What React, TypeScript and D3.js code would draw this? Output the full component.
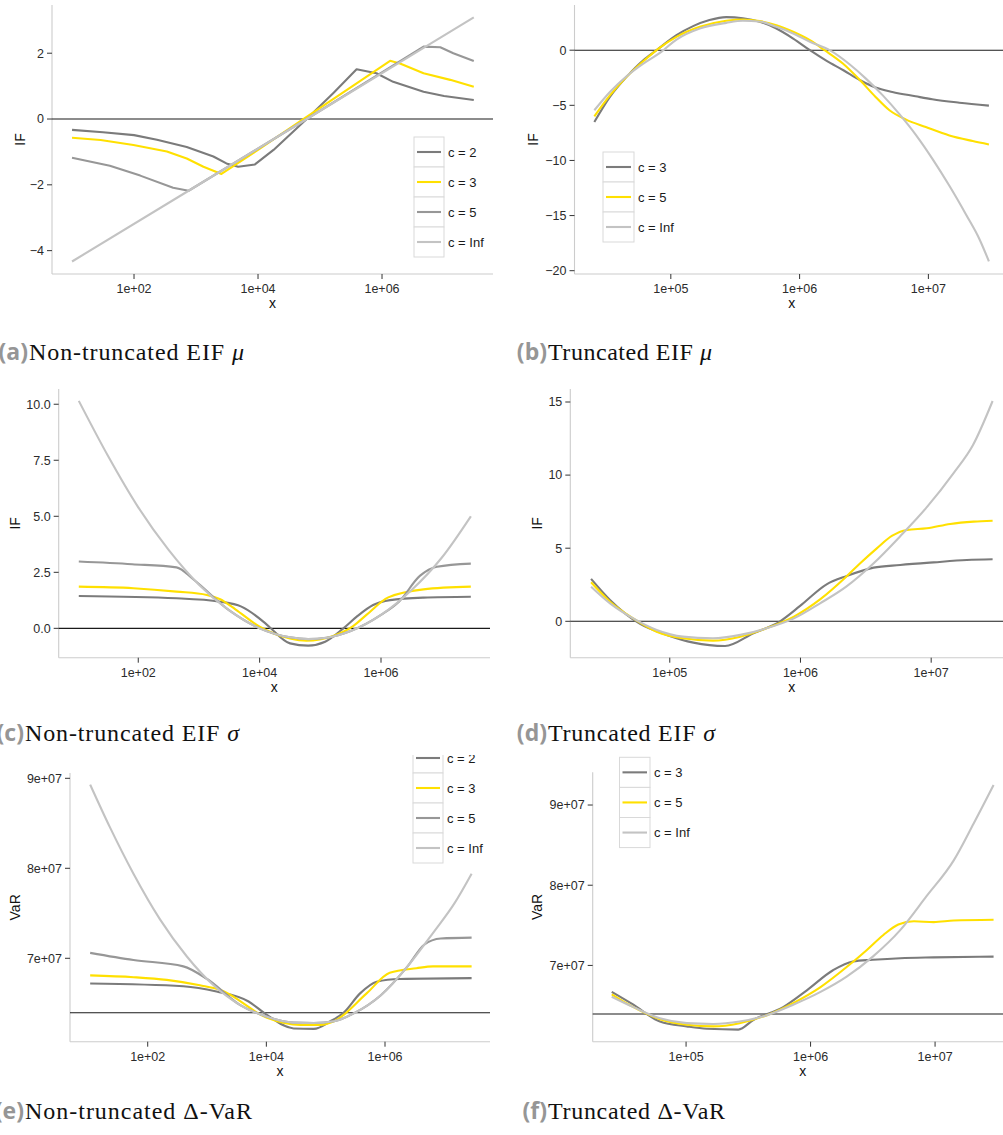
import React from 'react';
import * as d3 from 'd3';

// ---------- legend labels & palettes ----------
const NAMES_NT = ['c = 2', 'c = 3', 'c = 5', 'c = Inf'];
const NAMES_T = ['c = 3', 'c = 5', 'c = Inf'];
const COLORS_NT = ['#7b7b7b', '#ffe000', '#979797', '#c3c3c3'];
const COLORS_T = ['#7b7b7b', '#ffe000', '#c3c3c3'];

// ---------- data: [log10(x), value] ----------
// (a) Non-truncated EIF mu
const A_C2: [number, number][] = [[1.0,-0.33],[1.5,-0.4],[2.0,-0.49],[2.37,-0.63],[2.85,-0.85],[3.28,-1.14],[3.49,-1.35],[3.68,-1.45],[3.95,-1.38],[4.25,-0.94],[4.785,0],[5.22,0.8],[5.59,1.51],[5.91,1.39],[6.18,1.13],[6.67,0.83],[7.0,0.7],[7.48,0.58]];
const A_C3: [number, number][] = [[1.0,-0.57],[1.46,-0.64],[1.99,-0.79],[2.53,-0.99],[2.85,-1.2],[3.12,-1.45],[3.41,-1.67],[4.03,-0.9],[4.73,0],[5.5,0.97],[6.13,1.77],[6.29,1.69],[6.67,1.39],[7.1,1.19],[7.48,0.98]];
const A_C5: [number, number][] = [[1.0,-1.18],[1.61,-1.42],[2.1,-1.72],[2.63,-2.09],[2.88,-2.18],[4.785,0],[6.67,2.2],[6.94,2.18],[7.15,2.0],[7.48,1.76]];
const A_INF: [number, number][] = [[1.0,-4.33],[2.88,-2.18],[4.785,0],[6.67,2.16],[7.48,3.09]];

// (b) Truncated EIF mu
const B_C3: [number, number][] = [[4.406,-6.52],[4.527,-4.24],[4.656,-2.42],[4.786,-0.91],[4.889,0],[5.044,1.36],[5.173,2.18],[5.3,2.73],[5.43,3.0],[5.56,2.9],[5.69,2.58],[5.82,1.97],[5.95,1.06],[6.08,0],[6.21,-0.97],[6.34,-1.82],[6.47,-2.73],[6.59,-3.39],[6.72,-3.79],[6.9,-4.18],[7.03,-4.45],[7.24,-4.76],[7.47,-5.03]];
const B_C5: [number, number][] = [[4.406,-6.0],[4.527,-4.1],[4.656,-2.42],[4.786,-1.0],[4.915,0.24],[5.044,1.21],[5.225,2.12],[5.43,2.67],[5.56,2.79],[5.69,2.64],[5.82,2.27],[5.95,1.67],[6.08,0.91],[6.194,0],[6.336,-1.21],[6.47,-2.73],[6.59,-4.24],[6.698,-5.45],[6.827,-6.3],[6.98,-6.97],[7.163,-7.73],[7.344,-8.24],[7.47,-8.55]];
const B_INF: [number, number][] = [[4.406,-5.45],[4.527,-3.79],[4.656,-2.36],[4.786,-1.21],[4.915,-0.24],[5.044,0.97],[5.225,1.97],[5.43,2.48],[5.56,2.67],[5.69,2.6],[5.82,2.12],[5.95,1.52],[6.08,0.76],[6.233,0],[6.39,-1.3],[6.517,-2.6],[6.646,-4.1],[6.775,-5.8],[6.904,-7.7],[7.034,-9.9],[7.163,-12.3],[7.292,-14.9],[7.395,-17.1],[7.47,-19.15]];

// (c) Non-truncated EIF sigma
const C_C2: [number, number][] = [[1.02,1.44],[2.63,1.34],[3.35,1.19],[3.7,0.97],[4.06,0.3],[4.17,0.04],[4.5,-0.67],[4.8,-0.77],[5.08,-0.6],[5.38,0.0],[5.6,0.52],[5.87,1.04],[6.15,1.26],[6.7,1.37],[7.48,1.41]];
const C_C3: [number, number][] = [[1.02,1.86],[1.92,1.79],[2.63,1.64],[3.13,1.49],[3.35,1.3],[3.6,0.85],[4.0,0.07],[4.5,-0.45],[4.77,-0.55],[5.21,-0.34],[5.54,0.1],[5.76,0.6],[6.12,1.38],[6.7,1.74],[7.48,1.86]];
const C_C5: [number, number][] = [[1.02,2.98],[1.9,2.86],[2.63,2.72],[2.91,2.18],[3.5,0.8],[4.0,0.0],[4.5,-0.4],[4.8,-0.48],[5.1,-0.42],[5.5,-0.12],[6.0,0.6],[6.3,1.2],[6.64,2.34],[6.92,2.75],[7.48,2.89]];
const C_INF: [number, number][] = [[1.02,10.15],[1.5,7.7],[2.0,5.4],[2.5,3.5],[3.0,1.95],[3.5,0.8],[4.0,0.0],[4.5,-0.4],[4.8,-0.48],[5.1,-0.42],[5.5,-0.12],[6.0,0.6],[6.5,1.7],[7.0,3.15],[7.48,5.0]];

// (d) Truncated EIF sigma
const D_C3: [number, number][] = [[4.398,2.9],[4.543,1.46],[4.773,-0.18],[4.977,-0.93],[5.181,-1.46],[5.423,-1.69],[5.64,-0.82],[5.844,0],[5.997,1.05],[6.2,2.53],[6.355,3.1],[6.559,3.67],[6.763,3.85],[7.018,4.03],[7.273,4.19],[7.47,4.24]];
const D_C5: [number, number][] = [[4.398,2.67],[4.543,1.34],[4.72,0.2],[4.9,-0.71],[5.1,-1.16],[5.33,-1.32],[5.54,-1.05],[5.74,-0.48],[5.95,0.32],[6.15,1.5],[6.35,3.05],[6.457,3.97],[6.584,4.99],[6.699,5.84],[6.814,6.25],[6.967,6.36],[7.145,6.66],[7.324,6.82],[7.47,6.88]];
const D_INF: [number, number][] = [[4.398,2.37],[4.543,1.23],[4.72,0.2],[4.9,-0.59],[5.1,-1.05],[5.33,-1.16],[5.54,-0.93],[5.74,-0.48],[5.95,0.2],[6.15,1.23],[6.35,2.37],[6.56,3.97],[6.76,5.79],[6.97,7.84],[7.17,10.12],[7.32,12.06],[7.47,15.07]];

// (e) Non-truncated Delta-VaR
const E_C2: [number, number][] = [[1.03,6.72e7],[2.6,6.69e7],[3.16,6.63e7],[3.7,6.52e7],[4.01,6.37e7],[4.46,6.22e7],[4.8,6.215e7],[5.08,6.3e7],[5.31,6.4e7],[5.58,6.61e7],[5.86,6.74e7],[6.25,6.77e7],[7.46,6.78e7]];
const E_C3: [number, number][] = [[1.03,6.81e7],[1.76,6.79e7],[2.32,6.76e7],[2.88,6.7e7],[3.22,6.65e7],[4.01,6.34e7],[4.57,6.26e7],[4.91,6.26e7],[5.14,6.3e7],[5.69,6.61e7],[6.08,6.84e7],[6.53,6.89e7],[6.81,6.91e7],[7.46,6.91e7]];
const E_C5: [number, number][] = [[1.03,7.06e7],[1.76,6.98e7],[2.6,6.91e7],[3.0,6.77e7],[3.56,6.48e7],[4.01,6.35e7],[4.46,6.285e7],[4.8,6.28e7],[5.14,6.3e7],[5.48,6.39e7],[5.93,6.59e7],[6.38,6.91e7],[6.66,7.15e7],[6.94,7.22e7],[7.46,7.23e7]];
const E_INF: [number, number][] = [[1.03,8.93e7],[1.36,8.46e7],[1.76,7.94e7],[2.21,7.43e7],[2.66,7.02e7],[3.11,6.7e7],[3.56,6.48e7],[4.01,6.35e7],[4.46,6.285e7],[4.8,6.28e7],[5.14,6.3e7],[5.48,6.39e7],[5.93,6.59e7],[6.38,6.91e7],[6.83,7.3e7],[7.17,7.61e7],[7.46,7.94e7]];

// (f) Truncated Delta-VaR
const F_C3: [number, number][] = [[4.403,6.67e7],[4.577,6.51e7],[4.79,6.3e7],[5.005,6.24e7],[5.166,6.21e7],[5.42,6.2e7],[5.54,6.32e7],[5.78,6.48e7],[5.97,6.69e7],[6.18,6.94e7],[6.34,7.05e7],[6.5,7.07e7],[6.72,7.09e7],[6.99,7.1e7],[7.47,7.11e7]];
const F_C5: [number, number][] = [[4.403,6.64e7],[4.577,6.48e7],[4.79,6.33e7],[5.005,6.26e7],[5.22,6.24e7],[5.43,6.28e7],[5.65,6.38e7],[5.86,6.53e7],[6.08,6.73e7],[6.29,6.98e7],[6.45,7.19e7],[6.585,7.38e7],[6.705,7.51e7],[6.83,7.55e7],[6.99,7.54e7],[7.15,7.56e7],[7.47,7.57e7]];
const F_INF: [number, number][] = [[4.403,6.61e7],[4.577,6.48e7],[4.79,6.34e7],[5.005,6.28e7],[5.22,6.27e7],[5.43,6.3e7],[5.65,6.38e7],[5.86,6.51e7],[6.08,6.67e7],[6.29,6.86e7],[6.5,7.11e7],[6.72,7.44e7],[6.93,7.86e7],[7.15,8.31e7],[7.31,8.77e7],[7.47,9.25e7]];

// ---------- ticks ----------
const X_TICKS_NT = [1e2, 1e4, 1e6];
const X_TICKS_T = [1e5, 1e6, 1e7];
const Y_TICKS_A = [-4, -2, 0, 2];
const Y_TICKS_B = [-20, -15, -10, -5, 0];
const Y_TICKS_C = [0, 2.5, 5, 7.5, 10];
const Y_TICKS_D = [0, 5, 10, 15];
const Y_TICKS_VAR = [7e7, 8e7, 9e7];
const VAR_REF = 6.395e7;

const minus = (s: string) => s.replace('-', '\u2212');
const fmtInt = (d: number) => minus(String(d));
const fmtOne = (d: number) => minus(d.toFixed(1));
const fmtExpX = (d: number) => {
  const e = Math.round(Math.log10(d));
  return `1e+${e < 10 ? '0' + e : e}`;
};
const fmtExpY = (d: number) => {
  const e = Math.floor(Math.log10(d));
  const m = Math.round(d / Math.pow(10, e));
  return `${m}e+${e < 10 ? '0' + e : e}`;
};

type Panel = {
  left: number; right: number; top: number; bottom: number;
  xLo: number; xHi: number; yLo: number; yHi: number;
  xTicks: number[]; yTicks: number[]; yFmt: (d: number) => string;
  ylab: string; ylabX: number; hline: number; smooth: boolean;
  series: [number, number][][]; names: string[]; colors: string[];
  legend: { x: number; y: number; w: number; h: number };
  clipTop?: number;
  cap: { label: string; pre: string; sym: string; symItalic: boolean; post: string; x: number; y: number; len: number };
};

const PANELS: Panel[] = [
  { left: 52, right: 493, top: 5, bottom: 274, xLo: 0.677, xHi: 7.79, yLo: -4.71, yHi: 3.465,
    xTicks: X_TICKS_NT, yTicks: Y_TICKS_A, yFmt: fmtInt, ylab: 'IF', ylabX: 20, hline: 0, smooth: false,
    series: [A_C2, A_C3, A_C5, A_INF], names: NAMES_NT, colors: COLORS_NT,
    legend: { x: 414, y: 137, w: 30, h: 30 },
    cap: { label: '(a)', pre: 'Non-truncated EIF ', sym: 'μ', symItalic: true, post: '', x: 29, y: 360, len: 215 } },
  { left: 574.5, right: 1009, top: 5, bottom: 274, xLo: 4.252, xHi: 7.626, yLo: -20.3, yHi: 4.1,
    xTicks: X_TICKS_T, yTicks: Y_TICKS_B, yFmt: fmtInt, ylab: 'IF', ylabX: 533, hline: 0, smooth: true,
    series: [B_C3, B_C5, B_INF], names: NAMES_T, colors: COLORS_T,
    legend: { x: 603, y: 152, w: 31, h: 30 },
    cap: { label: '(b)', pre: 'Truncated EIF ', sym: 'μ', symItalic: true, post: '', x: 548, y: 360, len: 164 } },
  { left: 58.7, right: 490, top: 389, bottom: 657.7, xLo: 0.689, xHi: 7.796, yLo: -1.31, yHi: 10.68,
    xTicks: X_TICKS_NT, yTicks: Y_TICKS_C, yFmt: fmtOne, ylab: 'IF', ylabX: 15, hline: 0, smooth: true,
    series: [C_C2, C_C3, C_C5, C_INF], names: [], colors: COLORS_NT,
    legend: { x: 0, y: 0, w: 0, h: 0 },
    cap: { label: '(c)', pre: 'Non-truncated EIF ', sym: 'σ', symItalic: true, post: '', x: 25, y: 741, len: 214 } },
  { left: 570.3, right: 1013, top: 389, bottom: 657.7, xLo: 4.239, xHi: 7.626, yLo: -2.49, yHi: 15.89,
    xTicks: X_TICKS_T, yTicks: Y_TICKS_D, yFmt: fmtInt, ylab: 'IF', ylabX: 537, hline: 0, smooth: true,
    series: [D_C3, D_C5, D_INF], names: [], colors: COLORS_T,
    legend: { x: 0, y: 0, w: 0, h: 0 },
    cap: { label: '(d)', pre: 'Truncated EIF ', sym: 'σ', symItalic: true, post: '', x: 548, y: 741, len: 167 } },
  { left: 70, right: 490, top: 773, bottom: 1041.7, xLo: 0.69, xHi: 7.77, yLo: 6.073e7, yHi: 9.059e7,
    xTicks: X_TICKS_NT, yTicks: Y_TICKS_VAR, yFmt: fmtExpY, ylab: 'VaR', ylabX: 15, hline: VAR_REF, smooth: true,
    series: [E_C2, E_C3, E_C5, E_INF], names: NAMES_NT, colors: COLORS_NT,
    legend: { x: 413, y: 743, w: 30, h: 30 }, clipTop: 755,
    cap: { label: '(e)', pre: 'Non-truncated ', sym: 'Δ', symItalic: false, post: '-VaR', x: 25, y: 1119, len: 227 } },
  { left: 592.7, right: 1013, top: 772.3, bottom: 1041.7, xLo: 4.25, xHi: 7.626, yLo: 6.049e7, yHi: 9.408e7,
    xTicks: X_TICKS_T, yTicks: Y_TICKS_VAR, yFmt: fmtExpY, ylab: 'VaR', ylabX: 537, hline: VAR_REF, smooth: true,
    series: [F_C3, F_C5, F_INF], names: NAMES_T, colors: COLORS_T,
    legend: { x: 619.5, y: 757.3, w: 30.5, h: 30.1 },
    cap: { label: '(f)', pre: 'Truncated ', sym: 'Δ', symItalic: false, post: '-VaR', x: 548, y: 1119, len: 177 } },
];

const SANS = '"Liberation Sans", Arial, Helvetica, sans-serif';
const SERIF = '"Liberation Serif", "Times New Roman", serif';

function PanelView({ p, idx }: { p: Panel; idx: number }) {
  const x = d3.scaleLog().domain([Math.pow(10, p.xLo), Math.pow(10, p.xHi)]).range([p.left, p.right]);
  const y = d3.scaleLinear().domain([p.yLo, p.yHi]).range([p.bottom, p.top]);
  const line = d3.line<[number, number]>()
    .x(d => x(Math.pow(10, d[0])))
    .y(d => y(d[1]))
    .curve(p.smooth ? d3.curveMonotoneX : d3.curveLinear);
  const clipId = `clip-${idx}`;
  const cx = (p.left + p.right) / 2;
  return (
    <g>
      {p.clipTop !== undefined && (
        <defs>
          <clipPath id={clipId}>
            <rect x={0} y={p.clipTop} width={1003} height={1135 - p.clipTop} />
          </clipPath>
        </defs>
      )}
      <g clipPath={p.clipTop !== undefined ? `url(#${clipId})` : undefined}>
        {/* axes */}
        <line x1={p.left} x2={p.left} y1={p.top} y2={p.bottom} stroke="#cccccc" strokeWidth={1.1} />
        <line x1={p.left} x2={p.right} y1={p.bottom} y2={p.bottom} stroke="#cccccc" strokeWidth={1.1} />
        {p.yTicks.map(t => (
          <g key={'y' + t}>
            <line x1={p.left - 5} x2={p.left} y1={y(t)} y2={y(t)} stroke="#333" strokeWidth={1} />
            <text x={p.left - 8} y={y(t)} dy="0.35em" textAnchor="end" fontFamily={SANS} fontSize={12.5} fill="#2b2b2b">{p.yFmt(t)}</text>
          </g>
        ))}
        {p.xTicks.map(t => (
          <g key={'x' + t}>
            <line x1={x(t)} x2={x(t)} y1={p.bottom} y2={p.bottom + 5} stroke="#333" strokeWidth={1} />
            <text x={x(t)} y={p.bottom + 19} textAnchor="middle" fontFamily={SANS} fontSize={12.5} fill="#2b2b2b">{fmtExpX(t)}</text>
          </g>
        ))}
        <text x={cx} y={p.bottom + 34} textAnchor="middle" fontFamily={SANS} fontSize={14} fill="#111">x</text>
        <text transform={`translate(${p.ylabX},${(p.top + p.bottom) / 2}) rotate(-90)`} textAnchor="middle" dy="0.35em" fontFamily={SANS} fontSize={14} fill="#111">{p.ylab}</text>
        {/* reference line */}
        <line x1={p.left} x2={p.right} y1={y(p.hline)} y2={y(p.hline)} stroke="#1a1a1a" strokeWidth={1.1} />
        {/* series */}
        {p.series.map((s, i) => (
          <path key={'s' + i} d={line(s) || ''} fill="none" stroke={p.colors[i]} strokeWidth={2.1} strokeLinejoin="round" />
        ))}
        {/* legend */}
        {p.names.map((n, i) => {
          const ty = p.legend.y + i * p.legend.h;
          return (
            <g key={'l' + i}>
              <rect x={p.legend.x} y={ty} width={p.legend.w} height={p.legend.h} fill="#fff" stroke="#d9d9d9" strokeWidth={1} />
              <line x1={p.legend.x + 3} x2={p.legend.x + p.legend.w - 3} y1={ty + p.legend.h / 2} y2={ty + p.legend.h / 2} stroke={p.colors[i]} strokeWidth={2.1} />
              <text x={p.legend.x + p.legend.w + 4} y={ty + p.legend.h / 2} dy="0.35em" fontFamily={SANS} fontSize={13} fill="#1a1a1a">{n}</text>
            </g>
          );
        })}
      </g>
      {/* caption */}
      <text x={p.cap.x - 1} y={p.cap.y} textAnchor="end" fontFamily='"Open Sans", "DejaVu Sans", sans-serif' fontWeight={700} fontSize={23} fill="#969696">{p.cap.label}</text>
      <text x={p.cap.x} y={p.cap.y} fontFamily={SERIF} fontSize={24} fill="#111" textLength={p.cap.len} lengthAdjust="spacing">
        {p.cap.pre}
        <tspan fontStyle={p.cap.symItalic ? 'italic' : 'normal'}>{p.cap.sym}</tspan>
        {p.cap.post}
      </text>
    </g>
  );
}

export default function App() {
  return (
    <svg width={1003} height={1135} style={{ position: 'absolute', left: 0, top: 0, background: '#fff' }}>
      <rect x={0} y={0} width={1003} height={1135} fill="#fff" />
      {PANELS.map((p, i) => <PanelView key={i} p={p} idx={i} />)}
    </svg>
  );
}
